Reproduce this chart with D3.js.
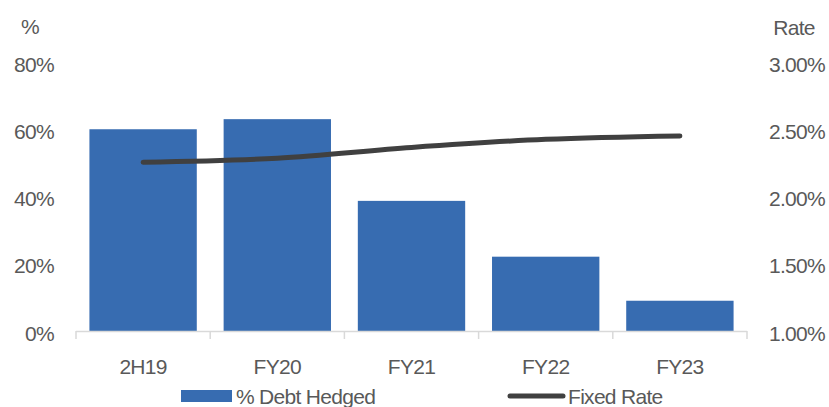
<!DOCTYPE html>
<html>
<head>
<meta charset="utf-8">
<script src="https://cdn.jsdelivr.net/npm/d3@7"></script>
<style>
  html, body { margin: 0; padding: 0; background: #fff; }
  svg text { font-family: "Liberation Sans", Arial, sans-serif; fill: #595959; letter-spacing: -0.7px; }
</style>
</head>
<body>
<svg id="chart" width="829" height="407"></svg>
<script>
// Hedging profile: share of debt hedged (bars, left axis) and fixed rate (line, right axis)
const categories = ["2H19", "FY20", "FY21", "FY22", "FY23"];
const debtHedged = [60, 63, 38.7, 22.1, 9.0];          // %
const fixedRate = [2.255, 2.285, 2.365, 2.425, 2.45];   // %
const leftTicks = [0, 20, 40, 60, 80];
const rightTicks = [1.0, 1.5, 2.0, 2.5, 3.0];

const svg = d3.select("#chart");
const plot = { left: 76, right: 747, top: 62, bottom: 331 };

const x = d3.scaleBand().domain(categories).range([plot.left, plot.right]).paddingInner(0.2).paddingOuter(0.1);
const yL = d3.scaleLinear().domain([0, 80]).range([plot.bottom, plot.top]);
const yR = d3.scaleLinear().domain([1, 3]).range([plot.bottom, plot.top]);

const barColor = "#376cb1";
const lineColor = "#404040";
const fontSize = 21;

// Bars
svg.append("g").selectAll("rect").data(categories).join("rect")
  .attr("x", d => x(d))
  .attr("width", x.bandwidth())
  .attr("y", (d, i) => yL(debtHedged[i]))
  .attr("height", (d, i) => yL(0) - yL(debtHedged[i]))
  .attr("fill", barColor);

// Category axis: baseline with boundary ticks
const step = x.step();
const axisG = svg.append("g").attr("stroke", "#d9d9d9").attr("stroke-width", 1.5);
axisG.append("line").attr("x1", plot.left).attr("x2", plot.right)
  .attr("y1", plot.bottom + 0.5).attr("y2", plot.bottom + 0.5);
axisG.selectAll("line.tick").data(d3.range(categories.length + 1)).join("line")
  .attr("class", "tick")
  .attr("x1", i => plot.left + i * step).attr("x2", i => plot.left + i * step)
  .attr("y1", plot.bottom).attr("y2", plot.bottom + 8);

svg.append("g").selectAll("text").data(categories).join("text")
  .attr("x", d => x(d) + x.bandwidth() / 2)
  .attr("y", 366)
  .attr("text-anchor", "middle")
  .attr("dominant-baseline", "central")
  .attr("font-size", fontSize)
  .text(d => d);

// Fixed rate line
const line = d3.line()
  .x((d, i) => x(categories[i]) + x.bandwidth() / 2)
  .y(d => yR(d))
  .curve(d3.curveMonotoneX);
svg.append("path").datum(fixedRate)
  .attr("d", line)
  .attr("fill", "none")
  .attr("stroke", lineColor)
  .attr("stroke-width", 5)
  .attr("stroke-linecap", "round");

// Left axis labels
svg.append("g").selectAll("text").data(leftTicks).join("text")
  .attr("x", 54)
  .attr("y", d => yL(d) + 2)
  .attr("text-anchor", "end")
  .attr("dominant-baseline", "central")
  .attr("font-size", fontSize)
  .text(d => d + "%");

// Right axis labels
svg.append("g").selectAll("text").data(rightTicks).join("text")
  .attr("x", 769)
  .attr("y", d => yR(d) + 2)
  .attr("text-anchor", "start")
  .attr("dominant-baseline", "central")
  .attr("font-size", fontSize)
  .text(d => d.toFixed(2) + "%");

// Axis titles
svg.append("text").attr("x", 30).attr("y", 26).attr("text-anchor", "middle")
  .attr("dominant-baseline", "central").attr("font-size", fontSize).text("%");
svg.append("text").attr("x", 794).attr("y", 27).attr("text-anchor", "middle")
  .attr("dominant-baseline", "central").attr("font-size", fontSize).text("Rate");

// Legend
const legY = 396;
svg.append("rect").attr("x", 181).attr("y", legY - 6).attr("width", 51).attr("height", 12).attr("fill", barColor);
svg.append("text").attr("x", 236).attr("y", legY).attr("dominant-baseline", "central")
  .attr("font-size", fontSize).text("% Debt Hedged");
svg.append("line").attr("x1", 510).attr("x2", 563).attr("y1", legY).attr("y2", legY)
  .attr("stroke", lineColor).attr("stroke-width", 5).attr("stroke-linecap", "round");
svg.append("text").attr("x", 568).attr("y", legY).attr("dominant-baseline", "central")
  .attr("font-size", fontSize).text("Fixed Rate");
</script>
</body>
</html>
